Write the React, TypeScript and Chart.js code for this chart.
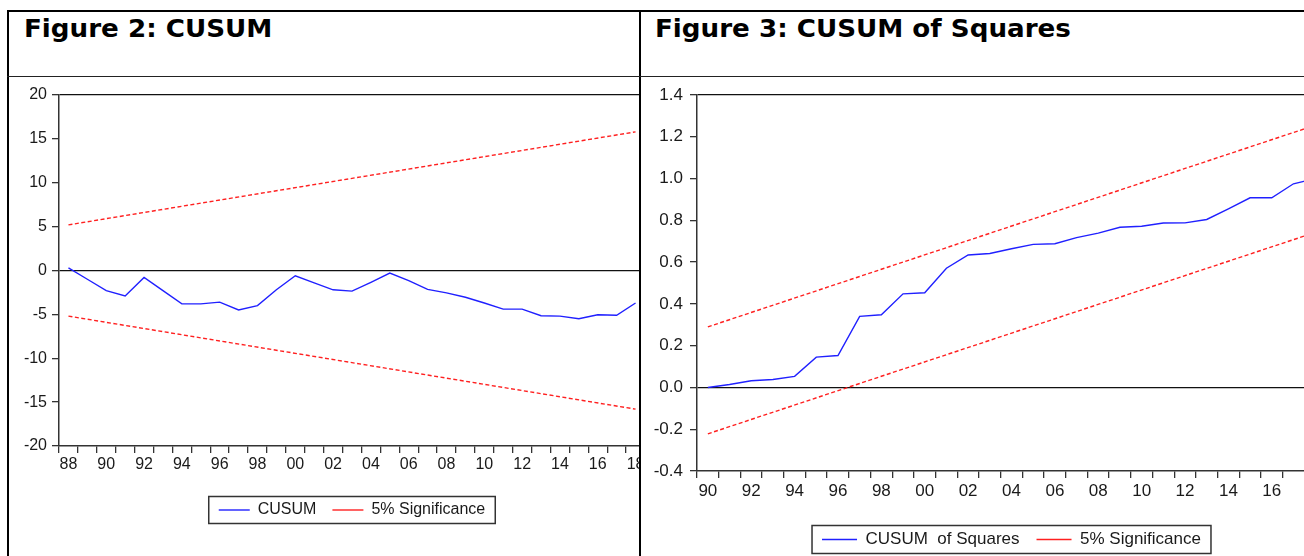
import React, { useEffect, useRef } from 'react';
import { Chart, registerables } from 'chart.js';

Chart.register(...registerables);

const FONT = "'Liberation Sans', Arial, sans-serif";

// ---------- Figure 2: CUSUM ----------
const cusumYears = [1988, 1989, 1990, 1991, 1992, 1993, 1994, 1995, 1996, 1997, 1998, 1999, 2000, 2001, 2002, 2003, 2004, 2005, 2006, 2007, 2008, 2009, 2010, 2011, 2012, 2013, 2014, 2015, 2016, 2017, 2018];
const cusumValues = [0.3, -1.0, -2.3, -2.9, -0.8, -2.3, -3.8, -3.8, -3.6, -4.5, -4.0, -2.2, -0.6, -1.4, -2.2, -2.35, -1.35, -0.3, -1.15, -2.15, -2.55, -3.05, -3.7, -4.4, -4.4, -5.15, -5.2, -5.5, -5.05, -5.1, -3.7];
const cusumBandYears = [1988, 2018];
const cusumUpper = [5.2, 15.8];
const cusumLower = [-5.2, -15.8];
const cusumYTicks = [-20, -15, -10, -5, 0, 5, 10, 15, 20];
const cusumLabels = ['CUSUM', '5% Significance'];

// ---------- Figure 3: CUSUM of Squares ----------
const sqYears = [1990, 1991, 1992, 1993, 1994, 1995, 1996, 1997, 1998, 1999, 2000, 2001, 2002, 2003, 2004, 2005, 2006, 2007, 2008, 2009, 2010, 2011, 2012, 2013, 2014, 2015, 2016, 2017, 2018];
const sqValues = [0.0, 0.014, 0.032, 0.038, 0.053, 0.145, 0.153, 0.34, 0.348, 0.448, 0.453, 0.571, 0.634, 0.641, 0.664, 0.685, 0.688, 0.717, 0.739, 0.767, 0.772, 0.787, 0.788, 0.804, 0.855, 0.908, 0.908, 0.975, 1.0];
const sqBandYears = [1990, 2018];
const sqUpper = [0.29, 1.255];
const sqLower = [-0.222, 0.742];
const sqYTicks = [-0.4, -0.2, 0, 0.2, 0.4, 0.6, 0.8, 1.0, 1.2, 1.4];
const sqLabels = ['CUSUM  of Squares', '5% Significance'];

const BLUE = '#2020ff';
const RED = '#ff2020';
const AXIS = '#333333';
const TEXT = '#1a1a1a';

const legendBox = {
  id: 'legendBox',
  afterDraw(chart: any, _args: any, opts: any) {
    const hb = chart.legend && chart.legend.legendHitBoxes;
    if (!hb || hb.length === 0) return;
    const a = hb[0];
    const b = hb[hb.length - 1];
    const cy = a.top + a.height / 2;
    const ctx = chart.ctx;
    ctx.save();
    ctx.setLineDash([]);
    ctx.strokeStyle = AXIS;
    ctx.lineWidth = 1.5;
    const x0 = a.left - opts.padL;
    const x1 = b.left + b.width + opts.padR;
    ctx.strokeRect(x0, cy - opts.halfH, x1 - x0, opts.halfH * 2);
    ctx.restore();
  },
};

type Spec = {
  years: number[];
  values: number[];
  bandYears: number[];
  upper: number[];
  lower: number[];
  yTicks: number[];
  labels: string[];
  xMin: number;
  xMax: number;
  axisW: number;
  axisH: number;
  fontSize: number;
  yPad: number;
  xPad: number;
  legendPad: number;
  sample: number;
  boxPadL: number;
  boxPadR: number;
  boxHalfH: number;
  decimals: number;
  w: number;
  h: number;
  top: number;
  padTop: number;
  padRight: number;
};

function makeConfig(s: Spec): any {
  const yMin = s.yTicks[0];
  const yMax = s.yTicks[s.yTicks.length - 1];
  const font = { family: FONT, size: s.fontSize };
  const isEdge = (v: number) => Math.abs(v) < 1e-9 || Math.abs(v - yMax) < 1e-9;
  return {
    type: 'line',
    data: {
      datasets: [
        {
          label: s.labels[0],
          data: s.years.map((x, i) => ({ x, y: s.values[i] })),
          borderColor: BLUE,
          backgroundColor: BLUE,
          borderWidth: 1.4,
          pointRadius: 0,
          tension: 0,
        },
        {
          label: s.labels[1],
          data: s.bandYears.map((x, i) => ({ x, y: s.upper[i] })),
          borderColor: RED,
          backgroundColor: RED,
          borderWidth: 1.4,
          borderDash: [4, 2.5],
          pointRadius: 0,
          tension: 0,
        },
        {
          label: s.labels[1] + ' (lower)',
          data: s.bandYears.map((x, i) => ({ x, y: s.lower[i] })),
          borderColor: RED,
          backgroundColor: RED,
          borderWidth: 1.4,
          borderDash: [4, 2.5],
          pointRadius: 0,
          tension: 0,
        },
      ],
    },
    options: {
      responsive: false,
      animation: false,
      devicePixelRatio: 1,
      layout: { padding: { top: s.padTop, right: s.padRight, bottom: 0, left: 0 } },
      scales: {
        x: {
          type: 'linear',
          min: s.xMin,
          max: s.xMax,
          afterBuildTicks: (sc: any) => {
            sc.ticks = s.years.map((v) => ({ value: v }));
          },
          afterFit: (sc: any) => {
            sc.height = s.axisH;
          },
          grid: {
            offset: true,
            drawOnChartArea: false,
            drawTicks: true,
            tickLength: 7,
            color: AXIS,
            tickColor: AXIS,
            lineWidth: 1.3,
          },
          border: { display: true, color: AXIS, width: 1.5 },
          ticks: {
            autoSkip: false,
            maxRotation: 0,
            minRotation: 0,
            padding: s.xPad,
            color: TEXT,
            font,
            callback: (v: any) => (Math.round(v) % 2 === 0 ? String(Math.round(v) % 100).padStart(2, '0') : ''),
          },
        },
        y: {
          type: 'linear',
          min: yMin,
          max: yMax,
          afterBuildTicks: (sc: any) => {
            sc.ticks = s.yTicks.map((v) => ({ value: v }));
          },
          afterFit: (sc: any) => {
            sc.width = s.axisW;
          },
          grid: {
            drawOnChartArea: true,
            drawTicks: true,
            tickLength: 7,
            color: (c: any) => (c.tick && isEdge(c.tick.value) ? '#111111' : 'rgba(0,0,0,0)'),
            tickColor: AXIS,
            lineWidth: 1.3,
          },
          border: { display: true, color: AXIS, width: 1.5 },
          ticks: {
            padding: s.yPad,
            color: TEXT,
            font,
            callback: (v: any) => (s.decimals > 0 ? Number(v).toFixed(s.decimals) : String(v)),
          },
        },
      },
      plugins: {
        legend: {
          display: true,
          position: 'bottom',
          fullSize: false,
          labels: {
            usePointStyle: true,
            pointStyle: 'line',
            pointStyleWidth: s.sample,
            padding: s.legendPad,
            color: TEXT,
            font,
            filter: (item: any) => item.datasetIndex < 2,
          },
        },
        tooltip: { enabled: false },
        title: { display: false },
        legendBox: { padL: s.boxPadL, padR: s.boxPadR, halfH: s.boxHalfH },
      },
    },
    plugins: [legendBox],
  };
}

function LineChart({ spec }: { spec: Spec }) {
  const ref = useRef<HTMLCanvasElement | null>(null);
  useEffect(() => {
    if (!ref.current) return;
    const chart = new Chart(ref.current, makeConfig(spec));
    return () => chart.destroy();
  }, []);
  return (
    <canvas
      ref={ref}
      width={spec.w}
      height={spec.h}
      style={{ position: 'absolute', left: 0, top: spec.top, width: spec.w, height: spec.h, display: 'block' }}
    />
  );
}

const leftSpec: Spec = {
  years: cusumYears,
  values: cusumValues,
  bandYears: cusumBandYears,
  upper: cusumUpper,
  lower: cusumLower,
  yTicks: cusumYTicks,
  labels: cusumLabels,
  xMin: 1987.5,
  xMax: 2018.5,
  axisW: 50,
  axisH: 40,
  fontSize: 16,
  yPad: 5,
  xPad: 2,
  legendPad: 16,
  sample: 31,
  boxPadL: 10,
  boxPadR: 10,
  boxHalfH: 13.5,
  decimals: 0,
  w: 646,
  h: 448,
  top: 3,
  padTop: 15,
  padRight: 10,
};

const rightSpec: Spec = {
  years: sqYears,
  values: sqValues,
  bandYears: sqBandYears,
  upper: sqUpper,
  lower: sqLower,
  yTicks: sqYTicks,
  labels: sqLabels,
  xMin: 1989.5,
  xMax: 2018.5,
  axisW: 56,
  axisH: 43,
  fontSize: 17,
  yPad: 7,
  xPad: 3,
  legendPad: 17,
  sample: 35,
  boxPadL: 10,
  boxPadR: 10,
  boxHalfH: 14,
  decimals: 1,
  w: 695,
  h: 481,
  top: 0,
  padTop: 18,
  padRight: 10,
};

const titleStyle: React.CSSProperties = {
  position: 'absolute',
  top: 17,
  fontFamily: "'DejaVu Sans', Verdana, sans-serif",
  fontWeight: 'bold',
  fontSize: 24,
  lineHeight: '24px',
  color: '#000',
  whiteSpace: 'nowrap',
  transform: 'scaleX(1.09)',
  transformOrigin: '0 0',
};

export default function App() {
  useEffect(() => {
    document.body.style.margin = '0';
    document.body.style.background = '#fff';
  }, []);
  const line = (l: number, t: number, w: number, h: number, c = '#000') => (
    <div style={{ position: 'absolute', left: l, top: t, width: w, height: h, background: c }} />
  );
  return (
    <div style={{ position: 'relative', width: 1304, height: 556, overflow: 'hidden', background: '#fff' }}>
      {line(7, 10, 1297, 2)}
      {line(7, 10, 2, 546)}
      {line(639, 10, 2, 546)}
      {line(7, 76, 1297, 1, '#222')}
      <div style={{ ...titleStyle, left: 24 }}>Figure 2: CUSUM</div>
      <div style={{ ...titleStyle, left: 655 }}>Figure 3: CUSUM of Squares</div>
      <div style={{ position: 'absolute', left: 9, top: 77, width: 630, height: 479, overflow: 'hidden' }}>
        <LineChart spec={leftSpec} />
      </div>
      <div style={{ position: 'absolute', left: 641, top: 77, width: 663, height: 479, overflow: 'hidden' }}>
        <LineChart spec={rightSpec} />
      </div>
    </div>
  );
}
